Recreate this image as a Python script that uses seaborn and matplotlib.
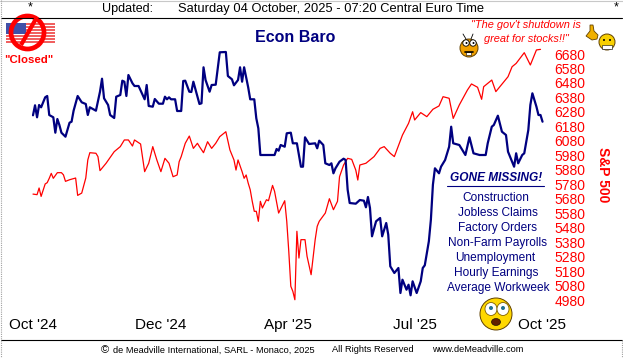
import matplotlib
matplotlib.use("Agg")
import matplotlib.pyplot as plt
from matplotlib.patches import Circle, Rectangle, Ellipse, Polygon
import seaborn as sns

# sessions since Oct '24
baro_session = [0,1,2,3,4,6,7,8,10,11,12,13,14,16,18,19,20,22,24,26,27,28,31,33,34,35,37,38,40,41,43,44,45,46,47,49,50,52,54,55,56,57,59,60,62,64,65,66,67,68,70,71,73,74,75,77,78,79,82,83,84,85,87,88,90,92,95,96,98,99,101,102,103,104,106,107,109,110,111,112,119,120,121,122,124,125,127,128,130,132,133,134,136,139,140,141,143,144,146,147,148,149,151,153,154,155,156,159,161,163,164,165,166,167,169,171,172,174,175,176,178,180,181,182,184,185,186,187,189,191,192,193,195,196,197,198,200,201,203,205,206,207,210,213,215,217,220,223,224,226,227,229,231,233,234,237,238,239,241,242,244,245,246,248,249,250,251]
baro_level = [184.7,194.7,182.7,195,192.7,202.7,204,185,182.7,167.3,181,175,167.3,163.3,177.3,178.3,189.3,204,197.7,196,185,192.7,189.3,208.3,221.3,201.7,195,185,182,203.3,205,219.3,218.3,204,225,216.7,214,214,205,200.7,215,194,193.3,201,196.3,196.3,203.3,200.7,202.7,200.7,200.7,189,189,219,219.3,208.3,208,218.3,196,196.7,232.7,220,208.3,215,215.3,247.7,248,224,220.7,214.7,220,232.7,218.3,232.7,212.7,200.7,200.7,181.7,171.7,145,145,151,149.3,155,153.3,166.7,167.3,156.7,156.7,133.3,133.3,162.7,156,156.7,151.7,159.3,155,136.7,135,136.7,126.7,131.7,138.3,141.3,140,110.3,97,96.3,100,99.3,92.7,103,92,63.7,78.7,82,63.7,77,65.3,33.7,27,32,7,20.3,10.3,15.3,4.7,18.7,7,18.7,32,34.7,58.7,80.3,115.3,131.7,126.7,133.3,140,153.3,173.3,156.7,155,145,162.7,146.7,145,145,156.7,173.3,175,184.3,168.3,165,148.3,133.3,146.7,136.7,145,146.7,170,195,206.7,193.3,185,185,178.3]

spx_session = [0,2,3,4,6,7,8,9,10,12,14,15,16,18,21,22,24,26,27,28,31,32,33,36,40,43,45,47,49,50,53,55,57,59,61,63,65,67,69,71,72,73,75,77,79,81,82,84,86,88,90,92,95,97,99,100,101,103,104,105,106,107,108,109,110,111,112,113,115,116,118,119,121,124,125,126,127,128,129,130,131,132,134,135,137,139,140,141,144,146,148,150,151,153,155,157,159,160,161,164,168,171,173,176,178,182,185,187,188,191,194,197,200,202,205,207,210,214,216,219,221,222,226,228,232,234,236,238,242,245,248,250]
spx_close = [5712,5708,5754,5696,5782,5791,5821,5855,5821,5860,5860,5845,5800,5811,5823,5703,5719,5823,5948,5998,5994,5971,5874,5925,6005,6040,6086,6086,6044,6086,6058,5867,5925,6040,5948,5867,5959,5925,5832,5844,5936,5971,6063,6113,6028,6063,6040,5998,6074,6028,6063,6109,6143,6017,5948,5878,5948,5867,5821,5844,5788,5742,5662,5593,5593,5524,5662,5616,5673,5666,5772,5731,5581,5666,5524,5316,5075,5040,4982,5455,5270,5397,5397,5282,5155,5397,5489,5524,5581,5680,5604,5662,5832,5913,5959,5952,5878,5809,5913,5925,5971,6028,6040,5994,5971,6120,6201,6281,6224,6275,6247,6298,6321,6385,6374,6235,6328,6431,6473,6450,6367,6454,6500,6420,6489,6523,6592,6615,6689,6604,6708,6712]

spx_ticks = [6680,6580,6480,6380,6280,6180,6080,5980,5880,5780,5680,5580,5480,5380,5280,5180,5080,4980]
date_ticks = [0,62.7,125.4,188,250.7]
date_labels = ["Oct '24","Dec '24","Apr '25","Jul '25","Oct '25"]
missing = ["Construction","Jobless Claims","Factory Orders","Non-Farm Payrolls","Unemployment","Hourly Earnings","Average Workweek"]
missing_x = [496,498,498,497,495,496,498]

W, H = 623, 358
NAVY = "#000080"
RED = "#ff0000"

sns.set_style("white")
plt.rcParams["font.family"] = ["Liberation Sans", "DejaVu Sans"]

fig = plt.figure(figsize=(W/100, H/100), dpi=100, facecolor="white")

# main axes: px 0-553 across, px 19-307 down
ax = fig.add_axes([0, 1-307/H, 553/W, 288/H])
ax.set_xlim(-33/2.03, (553-33)/2.03)
ax.set_ylim(6680-(307-54)*6.91, 6680+(54-19)*6.91)
sns.lineplot(x=spx_session, y=spx_close, color=RED, lw=0.9, estimator=None, ax=ax)

ax2 = ax.twinx()
ax2.set_ylim(-7, 281)
sns.lineplot(x=baro_session, y=baro_level, color=NAVY, lw=1.6, estimator=None, ax=ax2)
ax2.axis("off")

ax.yaxis.tick_right()
ax.set_yticks(spx_ticks)
ax.set_yticklabels([str(v) for v in spx_ticks], color=RED, fontsize=10)
ax.set_xticks(date_ticks)
ax.set_xticklabels(date_labels, fontsize=11, color="black")
ax.tick_params(length=0, pad=1)
ax.tick_params(axis="x", pad=8)
for s in ax.spines.values():
    s.set_visible(False)
ax.patch.set_alpha(0)

# pixel overlay for header, footer and decorations
ov = fig.add_axes([0, 0, 1, 1], zorder=5)
ov.set_xlim(0, W)
ov.set_ylim(H, 0)
ov.axis("off")
ov.patch.set_alpha(0)

ov.plot([1, 622], [18, 18], color="black", lw=0.8)
ov.plot([1, 622], [340, 340], color="black", lw=0.8)
ov.plot([0, W], [0.5, 0.5], color="#c8c8c8", lw=0.8)
ov.plot([0.5, 0.5], [0, H], color="#a0a0a0", lw=0.8, ls=(0, (1, 1)))
ov.plot([621.5, 621.5], [340, H], color="#a0a0a0", lw=0.8, ls=(0, (1, 1)))


def t(x, y, s, size, color="black", ha="center", **kw):
    ov.text(x, y, s, fontsize=size, color=color, ha=ha, va="center", **kw)


t(30, 7, "*", 9)
t(616, 7, "*", 9)
t(102, 9, "Updated:", 9, ha="left")
t(178, 9, "Saturday 04 October, 2025 - 07:20 Central Euro Time", 9.3, ha="left")
t(295, 37, "Econ Baro", 11.5, NAVY, fontweight="bold")
t(526, 25, "\"The gov't shutdown is", 7.9, RED, style="italic")
t(526, 39, "great for stocks!!\"", 7.9, RED, style="italic")
t(29, 60, "\"Closed\"", 8.2, RED, fontweight="bold")
t(603, 175, "S&P 500", 10, RED, fontweight="bold", rotation=270)
t(496, 178, "GONE MISSING!", 8.6, NAVY, fontweight="bold", style="italic")
ov.plot([447, 544], [186, 186], color=NAVY, lw=0.8)
for i, (name, mx) in enumerate(zip(missing, missing_x)):
    t(mx, 198+15*i, name, 8.6, NAVY)
t(105, 350, "\u00a9", 8)
t(113, 350, "de Meadville International, SARL - Monaco, 2025", 6.7, ha="left")
t(332, 350, "All Rights Reserved", 6.7, ha="left")
t(432, 350, "www.deMeadville.com", 6.7, ha="left")

# flag with no-entry sign
for i in range(7):
    ov.add_patch(Rectangle((6, 23+i*3), 49, 1.6, color="#f06060", lw=0))
ov.add_patch(Rectangle((6, 23), 20, 11, color="#4050a8", lw=0))
ov.add_patch(Circle((27.5, 32.5), 16.5, fill=False, ec=RED, lw=3.4))
ov.plot([21, 37], [45, 17], color=RED, lw=3, solid_capstyle="butt")


def smiley(cx, cy, r, face="#f8c000"):
    ov.add_patch(Circle((cx, cy), r, fc=face, ec="#604000", lw=0.7))


# left smiley, wild eyes
smiley(469, 48, 9, "#f0a000")
for ex in (466, 473):
    ov.add_patch(Circle((ex, 43), 3.2, fc="white", ec="black", lw=0.6))
    ov.add_patch(Circle((ex+0.5, 43), 1, fc="black", lw=0))
ov.plot([465, 473], [52, 52], color="black", lw=1.2)
ov.add_patch(Rectangle((466, 52), 5, 3, fc="white", ec="black", lw=0.4))
ov.plot([463, 466], [34, 39], color="black", lw=0.6)
ov.plot([473, 471], [34, 39], color="black", lw=0.6)

# right smiley, thumbs up
smiley(607, 42, 8, "#f8d000")
ov.add_patch(Circle((604, 40), 1, fc="black", lw=0))
ov.add_patch(Circle((610, 40), 1, fc="black", lw=0))
ov.add_patch(Rectangle((602, 45), 10, 4, fc="white", ec="black", lw=0.4))
ov.add_patch(Polygon([[586, 36], [590, 31], [590, 25], [593, 25], [594, 31], [598, 35], [597, 39], [592, 40]],
                     fc="#f0b000", ec="#604000", lw=0.6))

# bottom smiley, shocked
smiley(496, 314, 16, "#ffd800")
for ex in (491, 503):
    ov.add_patch(Ellipse((ex, 309), 12, 13, fc="white", ec="#806000", lw=0.6))
    ov.add_patch(Circle((ex, 308), 2, fc="#207090", lw=0))
ov.add_patch(Ellipse((496, 322), 9, 7, fc="#602000", ec="black", lw=0.4))

fig.savefig("out.png", dpi=100)
